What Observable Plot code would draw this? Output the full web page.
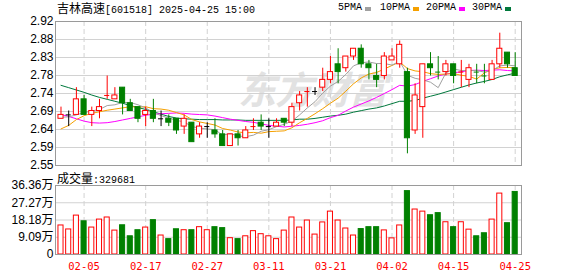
<!DOCTYPE html>
<html><head><meta charset="utf-8">
<script src="https://cdn.jsdelivr.net/npm/d3@7"></script>
<script src="https://cdn.jsdelivr.net/npm/@observablehq/plot@0.6"></script>
<style>
body{margin:0;background:#fff;}
#wrap{position:relative;width:578px;height:276px;overflow:hidden;background:#fff;}
#wrap svg{position:absolute;left:0;overflow:visible;}
.t{position:absolute;white-space:nowrap;color:#000;font-family:"Liberation Mono","Noto Sans CJK SC",monospace;font-size:10px;line-height:14px;}
.t .cjk{font-family:"Noto Sans CJK SC",sans-serif;font-size:12px;}
.sw{position:absolute;width:6px;height:4px;}
#wm{position:absolute;left:238px;top:63px;font-family:"Noto Sans CJK SC",sans-serif;font-size:38px;font-weight:bold;font-style:italic;color:#e2e2e2;letter-spacing:-1px;line-height:50px;}
</style></head><body>
<div id="wrap">
<div id="wm">东方财富</div>
<div class="t" id="title" style="left:57px;top:1px"></div>
<div id="legend"></div>
<div class="t" id="voltitle" style="left:57px;top:171px"></div>
</div>
<script>
const stockName = "吉林高速";
const stockCode = "601518";
const stamp = "2025-04-25 15:00";
const volTitle = "成交量";
const dates = ["01-23","01-24","01-27","02-05","02-06","02-07","02-10","02-11","02-12","02-13","02-14","02-17","02-18","02-19","02-20","02-21","02-24","02-25","02-26","02-27","02-28","03-03","03-04","03-05","03-06","03-07","03-10","03-11","03-12","03-13","03-14","03-17","03-18","03-19","03-20","03-21","03-24","03-25","03-26","03-27","03-28","03-31","04-01","04-02","04-03","04-07","04-08","04-09","04-10","04-11","04-14","04-15","04-16","04-17","04-18","04-21","04-22","04-23","04-24","04-25"];
const open  = [2.67,2.68,2.68,2.72,2.68,2.69,2.73,2.72,2.75,2.71,2.70,2.68,2.69,2.67,2.67,2.67,2.65,2.66,2.63,2.65,2.64,2.63,2.60,2.63,2.62,2.65,2.66,2.65,2.65,2.67,2.66,2.71,2.74,2.74,2.75,2.77,2.81,2.80,2.83,2.85,2.81,2.78,2.78,2.82,2.81,2.79,2.64,2.70,2.81,2.79,2.79,2.81,2.79,2.77,2.79,2.78,2.77,2.81,2.84,2.80];
const high  = [2.70,2.69,2.75,2.73,2.70,2.72,2.78,2.75,2.75,2.72,2.70,2.70,2.72,2.69,2.68,2.67,2.68,2.66,2.66,2.66,2.67,2.64,2.63,2.64,2.65,2.67,2.68,2.67,2.67,2.67,2.71,2.74,2.75,2.75,2.80,2.83,2.85,2.83,2.85,2.86,2.82,2.81,2.84,2.85,2.87,2.80,2.76,2.81,2.84,2.83,2.82,2.81,2.82,2.81,2.81,2.81,2.82,2.89,2.84,2.84];
const low   = [2.67,2.65,2.68,2.68,2.65,2.67,2.72,2.72,2.68,2.69,2.66,2.65,2.66,2.65,2.65,2.63,2.63,2.61,2.62,2.62,2.62,2.60,2.60,2.60,2.62,2.64,2.64,2.62,2.65,2.65,2.65,2.69,2.70,2.73,2.74,2.76,2.76,2.79,2.82,2.80,2.77,2.75,2.77,2.82,2.80,2.58,2.63,2.62,2.78,2.77,2.78,2.76,2.75,2.75,2.76,2.76,2.77,2.80,2.80,2.78];
const close = [2.68,2.68,2.72,2.68,2.69,2.70,2.73,2.73,2.71,2.69,2.67,2.69,2.67,2.67,2.66,2.64,2.67,2.61,2.65,2.65,2.63,2.60,2.63,2.62,2.64,2.65,2.65,2.65,2.66,2.66,2.70,2.73,2.74,2.74,2.77,2.79,2.79,2.83,2.85,2.81,2.80,2.77,2.83,2.83,2.86,2.62,2.73,2.81,2.80,2.79,2.81,2.78,2.79,2.80,2.79,2.78,2.81,2.85,2.81,2.78];
const volume = [153000,132000,205000,175000,142000,184000,195000,126000,154000,96000,128000,142000,181000,100000,81000,133000,128000,128000,144000,128000,144000,139000,86000,81000,96000,123000,107000,96000,81000,126000,195000,142000,179000,105000,169000,226000,179000,137000,100000,134000,144000,144000,127000,85000,153000,334000,237000,226000,207000,218000,170000,144000,170000,131000,96000,112000,184000,321000,165000,329681];
const ma5  = [2.674,2.675,2.680,2.686,2.690,2.694,2.704,2.706,2.712,2.712,2.706,2.698,2.686,2.678,2.672,2.666,2.662,2.650,2.646,2.644,2.642,2.628,2.632,2.626,2.624,2.628,2.638,2.642,2.650,2.656,2.664,2.680,2.698,2.714,2.736,2.754,2.766,2.784,2.806,2.814,2.816,2.812,2.812,2.808,2.818,2.782,2.774,2.770,2.764,2.750,2.788,2.798,2.794,2.794,2.794,2.790,2.794,2.806,2.808,2.806];
const ma10 = [2.644,2.653,2.668,2.678,2.684,2.688,2.692,2.695,2.698,2.701,2.700,2.701,2.696,2.695,2.692,2.686,2.680,2.668,2.662,2.658,2.654,2.645,2.641,2.636,2.634,2.635,2.633,2.637,2.638,2.639,2.647,2.660,2.671,2.683,2.696,2.710,2.723,2.741,2.760,2.775,2.785,2.789,2.798,2.807,2.816,2.799,2.793,2.791,2.786,2.784,2.785,2.786,2.782,2.779,2.772,2.788,2.797,2.801,2.802,2.801];
const ma20 = [2.681,2.676,2.670,2.664,2.660,2.659,2.660,2.663,2.667,2.671,2.675,2.679,2.682,2.683,2.684,2.685,2.684,2.682,2.681,2.680,2.677,2.673,2.669,2.666,2.663,2.661,2.657,2.653,2.651,2.649,2.651,2.653,2.656,2.660,2.665,2.673,2.679,2.690,2.700,2.708,2.716,2.725,2.735,2.745,2.756,2.754,2.758,2.766,2.773,2.780,2.785,2.788,2.791,2.794,2.795,2.794,2.795,2.796,2.794,2.793];
const ma30 = [2.756,2.750,2.744,2.738,2.731,2.725,2.720,2.715,2.710,2.704,2.699,2.694,2.688,2.682,2.676,2.672,2.670,2.669,2.668,2.668,2.668,2.667,2.667,2.667,2.666,2.666,2.666,2.666,2.666,2.666,2.667,2.669,2.669,2.671,2.674,2.677,2.679,2.682,2.687,2.691,2.695,2.698,2.703,2.709,2.715,2.715,2.717,2.723,2.728,2.733,2.739,2.745,2.751,2.757,2.762,2.766,2.771,2.778,2.783,2.787];
const maNames = ["5PMA","10PMA","20PMA","30PMA"];
const maColors = ["#a0a0a0","#f5a000","#ff00ff","#00783c"];
const priceTickLabels = ["2.55","2.59","2.64","2.69","2.74","2.78","2.83","2.88","2.92"];
const priceMin = 2.55, priceMax = 2.92;
const volTickLabels = ["0","9.09万","18.18万","27.27万","36.36万"];
const volMax = 363600;
const dateTicks = ["02-05","02-17","02-27","03-11","03-21","04-02","04-15","04-25"];

const RED = "#ff0000", GREEN = "#008000", BLACK = "#000000";
const n = dates.length;
const cents = x => Math.round(x * 100);
const rows = d3.range(n).map(i => {
  const bodyDir = Math.sign(cents(close[i]) - cents(open[i]));
  const prevDir = i > 0 ? Math.sign(cents(close[i]) - cents(close[i-1])) : bodyDir;
  return {i, o: open[i], h: high[i], l: low[i], c: close[i], v: volume[i],
          dir: bodyDir !== 0 ? bodyDir : prevDir, body: bodyDir !== 0,
          volUp: i > 0 ? prevDir >= 0 : bodyDir >= 0};
});
const col = d => d.dir > 0 ? RED : d.dir < 0 ? GREEN : BLACK;
const hw = 0.33;
const xDomain = [-0.714, 59.82];
const tickIdx = dateTicks.map(s => dates.indexOf(s));
const pStep = (priceMax - priceMin) / (priceTickLabels.length - 1);
const priceTicks = priceTickLabels.map((_, k) => priceMin + k * pStep);
const vStep = volMax / (volTickLabels.length - 1);
const volTicks = volTickLabels.map((_, k) => k * vStep);
const axisFont = "'Liberation Sans','Noto Sans CJK SC',sans-serif";
const gridC = "#d2d2d2", frameC = "#9a9a9a";

const maMarks = [ma5, ma10, ma20, ma30].map((arr, k) =>
  Plot.line(d3.range(n), {x: d => d, y: d => arr[d], stroke: maColors[k], strokeWidth: 1}));

const price = Plot.plot({
  width: 578, height: 170,
  marginLeft: 55, marginRight: 57, marginTop: 21, marginBottom: 5,
  x: {type: "linear", domain: xDomain, axis: null, label: null},
  y: {domain: [priceMin, priceMax], axis: null, label: null},
  style: {background: "transparent", fontFamily: axisFont, fontSize: "12px", color: "#000", overflow: "visible"},
  marks: [
    Plot.ruleY(priceTicks, {stroke: gridC}),
    Plot.ruleX(tickIdx, {stroke: gridC, strokeDasharray: "5,3"}),
    Plot.axisY(priceTicks, {tickSize: 0, tickPadding: 2, fontSize: 12, fontFamily: axisFont, label: null,
      tickFormat: d => priceTickLabels[Math.round((d - priceMin) / pStep)]}),
    ...maMarks.slice().reverse(),
    Plot.ruleX(rows, {x: "i", y1: "l", y2: "h", stroke: col}),
    Plot.rect(rows.filter(d => d.body), {x1: d => d.i - hw, x2: d => d.i + hw, y1: "o", y2: "c",
      fill: d => d.dir > 0 ? "#ffffff" : GREEN, stroke: col}),
    Plot.ruleY(rows.filter(d => !d.body), {y: "c", x1: d => d.i - hw, x2: d => d.i + hw, stroke: col}),
    Plot.frame({stroke: frameC})
  ]
});
price.style.top = "0px";

const vol = Plot.plot({
  width: 578, height: 106,
  marginLeft: 55, marginRight: 57, marginTop: 15, marginBottom: 22,
  x: {type: "linear", domain: xDomain, axis: null, label: null},
  y: {domain: [0, volMax], axis: null, label: null},
  style: {background: "transparent", fontFamily: axisFont, fontSize: "12px", color: "#000", overflow: "visible"},
  marks: [
    Plot.ruleY(volTicks, {stroke: gridC}),
    Plot.ruleX(tickIdx, {stroke: gridC, strokeDasharray: "5,3"}),
    Plot.axisY(volTicks, {tickSize: 0, tickPadding: 2, fontSize: 12, fontFamily: axisFont, label: null,
      tickFormat: d => volTickLabels[Math.round(d / vStep)]}),
    Plot.axisX(tickIdx, {tickSize: 0, tickPadding: 8, fontSize: 10.5, fill: RED, label: null,
      fontFamily: "'DejaVu Sans Mono',monospace", tickFormat: i => dates[i]}),
    Plot.rect(rows, {x1: d => d.i - hw, x2: d => d.i + hw, y1: 0, y2: "v",
      fill: d => d.volUp ? "#ffffff" : GREEN, stroke: d => d.volUp ? RED : GREEN}),
    Plot.frame({stroke: frameC})
  ]
});
vol.style.top = "170px";

const wrap = document.getElementById("wrap");
wrap.appendChild(vol);
wrap.appendChild(price);

document.getElementById("title").innerHTML =
  `<span class="cjk">${stockName}</span>[${stockCode}] ${stamp}`;
document.getElementById("voltitle").innerHTML =
  `<span class="cjk">${volTitle}</span>:${volume[n-1]}`;

const legendX = [338, 380, 426, 472];
const legend = document.getElementById("legend");
maNames.forEach((name, k) => {
  const t = document.createElement("div");
  t.className = "t"; t.textContent = name;
  t.style.left = legendX[k] + "px"; t.style.top = "1px";
  legend.appendChild(t);
  const s = document.createElement("div");
  s.className = "sw"; s.style.background = maColors[k];
  s.style.left = (legendX[k] + name.length * 6 + 3) + "px"; s.style.top = "7px";
  legend.appendChild(s);
});
</script>
</body></html>
